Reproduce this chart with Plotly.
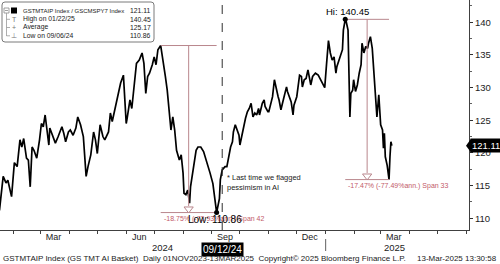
import plotly.graph_objects as go
import pandas as pd
import numpy as np

# ---------------- data ----------------
dates = [
    "2024-01-17", "2024-01-19", "2024-01-21", "2024-01-24", "2024-01-26", "2024-01-30",
    "2024-02-02", "2024-02-05", "2024-02-08", "2024-02-10", "2024-02-12", "2024-02-15",
    "2024-02-17", "2024-02-19", "2024-02-21", "2024-02-23", "2024-02-26", "2024-02-29",
    "2024-03-02", "2024-03-04", "2024-03-06", "2024-03-08", "2024-03-10", "2024-03-11",
    "2024-03-14", "2024-03-17", "2024-03-20", "2024-03-24", "2024-03-26", "2024-03-28",
    "2024-03-31", "2024-04-02", "2024-04-05", "2024-04-08", "2024-04-10", "2024-04-13",
    "2024-04-16", "2024-04-19", "2024-04-21", "2024-04-24", "2024-04-27", "2024-04-29",
    "2024-05-01", "2024-05-04", "2024-05-07", "2024-05-09", "2024-05-13", "2024-05-15",
    "2024-05-17", "2024-05-20", "2024-05-23", "2024-05-26", "2024-05-29", "2024-05-30",
    "2024-06-01", "2024-06-02", "2024-06-05", "2024-06-07", "2024-06-09", "2024-06-12",
    "2024-06-15", "2024-06-18", "2024-06-20", "2024-06-22", "2024-06-24", "2024-06-26",
    "2024-06-29", "2024-07-01", "2024-07-03", "2024-07-05", "2024-07-08", "2024-07-10",
    "2024-07-13", "2024-07-15", "2024-07-17", "2024-07-19", "2024-07-21", "2024-07-23",
    "2024-07-25", "2024-07-28", "2024-07-30", "2024-08-01", "2024-08-02", "2024-08-04",
    "2024-08-06", "2024-08-08", "2024-08-09", "2024-08-12", "2024-08-15", "2024-08-17",
    "2024-08-20", "2024-08-23", "2024-08-26", "2024-08-28", "2024-08-30", "2024-09-02",
    "2024-09-04", "2024-09-06", "2024-09-09", "2024-09-10", "2024-09-12", "2024-09-15",
    "2024-09-17", "2024-09-19", "2024-09-21", "2024-09-23", "2024-09-24", "2024-09-26",
    "2024-09-28", "2024-09-30", "2024-10-01", "2024-10-03", "2024-10-05", "2024-10-07",
    "2024-10-09", "2024-10-11", "2024-10-13", "2024-10-15", "2024-10-17", "2024-10-19",
    "2024-10-21", "2024-10-22", "2024-10-25", "2024-10-27", "2024-10-28", "2024-10-31",
    "2024-11-01", "2024-11-04", "2024-11-05", "2024-11-07", "2024-11-09", "2024-11-11",
    "2024-11-12", "2024-11-14", "2024-11-16", "2024-11-18", "2024-11-20", "2024-11-21",
    "2024-11-23", "2024-11-25", "2024-11-27", "2024-11-28", "2024-12-01", "2024-12-02",
    "2024-12-04", "2024-12-06", "2024-12-07", "2024-12-09", "2024-12-11", "2024-12-13",
    "2024-12-15", "2024-12-16", "2024-12-18", "2024-12-21", "2024-12-24", "2024-12-26",
    "2024-12-29", "2024-12-31", "2025-01-02", "2025-01-04", "2025-01-06", "2025-01-08",
    "2025-01-10", "2025-01-12", "2025-01-13", "2025-01-15", "2025-01-17", "2025-01-19",
    "2025-01-20", "2025-01-22", "2025-01-23", "2025-01-25", "2025-01-27", "2025-01-28",
    "2025-01-30", "2025-01-31", "2025-02-02", "2025-02-04", "2025-02-06", "2025-02-08",
    "2025-02-09", "2025-02-11", "2025-02-13", "2025-02-15", "2025-02-16", "2025-02-18",
    "2025-02-20", "2025-02-22", "2025-02-24", "2025-02-25", "2025-02-27", "2025-03-01",
    "2025-03-03", "2025-03-04", "2025-03-05", "2025-03-06", "2025-03-08", "2025-03-10",
    "2025-03-11", "2025-03-12", "2025-03-13",
]
values = [
    111.2, 114.3, 116.4, 115.4, 115.8, 113.3,
    118.5, 117.9, 122.0, 120.9, 122.2, 119.2,
    118.9, 114.8, 120.9, 120.4, 119.2, 122.0,
    124.5, 124.0, 125.8, 123.5, 121.2, 123.8,
    122.5, 121.5, 122.5, 124.0, 123.0, 121.7,
    123.2, 123.5, 122.7, 123.8, 125.5, 124.3,
    122.5, 116.4, 117.9, 119.7, 123.2, 122.0,
    119.9, 124.3, 122.5, 122.0, 123.2, 126.1,
    124.8, 126.7, 128.9, 130.7, 131.9, 129.9,
    124.5, 125.3, 128.1, 126.8, 129.4, 133.7,
    134.2, 135.3, 133.7, 129.1, 131.7, 132.2,
    133.5, 134.7, 133.5, 135.8, 136.44, 134.7,
    131.7, 129.6, 126.1, 123.5, 125.5, 123.5,
    120.4, 118.9, 119.7, 116.9, 113.8, 113.6,
    114.3, 112.3, 114.8, 117.9, 120.4, 120.9,
    120.9, 120.2, 118.9, 117.9, 116.9, 115.3,
    113.3, 110.86, 113.0, 115.9, 117.4, 117.9,
    117.9, 119.7, 120.9, 121.7, 123.2, 124.3,
    123.5, 122.7, 121.2, 122.7, 124.0, 125.3,
    126.3, 126.8, 127.6, 125.5, 126.1, 125.8,
    126.8, 125.8, 127.6, 128.1, 127.1, 126.3,
    126.3, 127.8, 128.6, 131.2, 129.6, 128.6,
    128.1, 126.6, 127.8, 129.1, 130.1, 129.4,
    128.6, 127.8, 125.8, 127.3, 128.6, 130.1,
    131.9, 131.7, 130.1, 131.2, 131.4, 132.7,
    130.9, 130.4, 131.7, 132.2, 131.9, 131.4,
    130.7, 130.0, 133.7, 137.2, 135.3, 134.2,
    134.7, 132.2, 133.2, 134.0, 135.0, 135.8,
    138.8, 140.45, 140.1, 138.8, 125.5, 129.1,
    129.6, 131.2, 129.4, 130.4, 132.2, 133.5,
    136.8, 135.3, 136.3, 136.0, 136.8, 137.8,
    136.0, 132.2, 128.6, 125.5, 128.9, 124.3,
    123.5, 120.7, 123.0, 119.4, 118.1, 115.91,
    119.4, 121.7, 121.11,
]

# tick labels
month_tick_dates = ["2024-03-15", "2024-06-15", "2024-09-15", "2024-12-15", "2025-03-15"]
month_tick_text = ["Mar", "Jun", "Sep", "Dec", "Mar"]
y_tick_vals = [110, 115, 120, 125, 130, 135, 140]

# drawdown annotations
dd_start = ["2024-07-08", "2025-01-22"]
dd_end = ["2024-09-06", "2025-03-10"]
dd_text = ["-18.75% (-72.93%ann.) Span 42", "-17.47% (-77.49%ann.) Span 33"]

flag_date = "2024-09-12"
flag_label = "09/12/24"
flag_note = "* Last time we flagged<br>pessimism in AI"

legend_rows = [
    ("GSTMTAIP Index / GSCMSPY7 Index", "121.11"),
    ("High on 01/22/25", "140.45"),
    ("Average", "125.17"),
    ("Low on 09/06/24", "110.86"),
]
footer_left = "GSTMTAIP Index (GS TMT AI Basket)  Daily 01NOV2023-13MAR2025  Copyright\u00a9 2025 Bloomberg Finance L.P."
footer_right = "13-Mar-2025 13:30:58"

# ---------------- layout helpers ----------------
W, H = 500, 264
ML, MR, MT, MB = 0, 31, 0, 34
PW, PH = W - ML - MR, H - MT - MB


def px(x):
    return (x - ML) / PW


def py(y):
    return (H - MB - y) / PH


s = pd.Series(values, index=pd.to_datetime(dates))
FONT = "Liberation Sans"
DDL = "#b9878d"
DDT = "#c25a68"
TXT = "#222222"

fig = go.Figure()

# main line
fig.add_trace(go.Scatter(x=s.index, y=s.values, mode="lines",
                         line=dict(color="black", width=1.7), hoverinfo="skip"))

shapes = []
annotations = []

# drawdowns
for a, b, t in zip(dd_start, dd_end, dd_text):
    ta, tb = pd.Timestamp(a), pd.Timestamp(b)
    hi, lo = s[ta], s[tb]
    mid = ta + (tb - ta) / 2
    fig.add_trace(go.Scatter(x=[ta, tb], y=[hi, hi], mode="lines",
                             line=dict(color=DDL, width=1), hoverinfo="skip"))
    fig.add_trace(go.Scatter(x=[ta, tb], y=[lo, lo], mode="lines",
                             line=dict(color=DDL, width=1), hoverinfo="skip"))
    fig.add_trace(go.Scatter(x=[mid, mid], y=[hi, lo + 1.0], mode="lines",
                             line=dict(color=DDL, width=1), hoverinfo="skip"))
    fig.add_trace(go.Scatter(x=[mid], y=[lo + 0.55], mode="markers",
                             marker=dict(symbol="triangle-down", size=8, color="white",
                                         line=dict(color=DDL, width=1)), hoverinfo="skip"))
    annotations.append(dict(x=ta, y=lo, xref="x", yref="y", text=t, showarrow=False,
                            xanchor="left", yanchor="top", xshift=1,
                            font=dict(family=FONT, size=7, color=DDT)))

# hi / low points
hi_d, lo_d = s.idxmax(), s.idxmin()
fig.add_trace(go.Scatter(x=[hi_d, lo_d], y=[s.max(), s.min()], mode="markers",
                         marker=dict(color="black", size=5), hoverinfo="skip"))
annotations.append(dict(x=hi_d, y=s.max(), xref="x", yref="y", text=f"Hi: {s.max():.2f}",
                        showarrow=False, xanchor="center", yanchor="bottom", xshift=2,
                        font=dict(family=FONT, size=9.5, color="black")))
annotations.append(dict(x=lo_d, y=s.min(), xref="x", yref="y", text=f"Low: {s.min():.2f}",
                        showarrow=False, xanchor="center", yanchor="top", yshift=1, xshift=-2,
                        font=dict(family=FONT, size=10, color="black")))

# flagged date dashed line and label
shapes.append(dict(type="line", xref="x", yref="paper", x0=flag_date, x1=flag_date,
                   y0=0, y1=1, line=dict(color="#303030", width=1, dash="dash")))
annotations.append(dict(x=flag_date, y=py(249), xref="x", yref="paper", text=flag_label,
                        showarrow=False, xanchor="center", yanchor="middle",
                        bgcolor="black", borderpad=1,
                        font=dict(family=FONT, size=10, color="white")))
shapes.append(dict(type="path", xref="x", yref="paper",
                   path=(f"M {pd.Timestamp(flag_date) - pd.Timedelta(days=3)} {py(242)} "
                         f"L {pd.Timestamp(flag_date)} {py(238.5)} "
                         f"L {pd.Timestamp(flag_date) + pd.Timedelta(days=3)} {py(242)} Z"),
                   fillcolor="black", line=dict(width=0)))
annotations.append(dict(x=px(225), y=py(182), xref="paper", yref="paper", text=flag_note,
                        showarrow=False, xanchor="left", yanchor="middle", align="left",
                        font=dict(family=FONT, size=7.5, color=TXT)))

# year labels and separator
annotations.append(dict(x=px(162), y=py(247.5), xref="paper", yref="paper", text="2024",
                        showarrow=False, xanchor="center", yanchor="middle",
                        font=dict(family=FONT, size=9.5, color=TXT)))
annotations.append(dict(x=px(394), y=py(247.5), xref="paper", yref="paper", text="2025",
                        showarrow=False, xanchor="center", yanchor="middle",
                        font=dict(family=FONT, size=9.5, color=TXT)))
shapes.append(dict(type="line", xref="x", yref="paper", x0="2025-01-01", x1="2025-01-01",
                   y0=py(239), y1=py(251), line=dict(color="#606060", width=1)))

# last value tag
last = s.iloc[-1]
shapes.append(dict(type="path", xref="paper", yref="y",
                   path=f"M {px(466)} {last} L {px(471)} {last + 1.05} L {px(471)} {last - 1.05} Z",
                   fillcolor="black", line=dict(width=0)))
annotations.append(dict(x=px(470), y=last, xref="paper", yref="y", text=f"{last:.2f}",
                        showarrow=False, xanchor="left", yanchor="middle", bgcolor="black",
                        borderpad=1, font=dict(family=FONT, size=9.5, color="white")))

# legend box
r = 3
x0, x1, y0, y1 = px(2), px(154), py(2), py(42)
rx, ry = r / PW, r / PH
shapes.append(dict(type="path", xref="paper", yref="paper",
                   path=(f"M {x0+rx} {y0} L {x1-rx} {y0} Q {x1} {y0} {x1} {y0-ry} "
                         f"L {x1} {y1+ry} Q {x1} {y1} {x1-rx} {y1} L {x0+rx} {y1} "
                         f"Q {x0} {y1} {x0} {y1+ry} L {x0} {y0-ry} Q {x0} {y0} {x0+rx} {y0} Z"),
                   fillcolor="white", line=dict(color="#7a7a7a", width=1), layer="above"))
row_y = [10.7, 19.3, 27.5, 35.8]
label_sizes = [6.0, 6.8, 6.8, 6.8]
for (lab, val), yy, fs in zip(legend_rows, row_y, label_sizes):
    annotations.append(dict(x=px(20.5), y=py(yy), xref="paper", yref="paper", text=lab,
                            showarrow=False, xanchor="left", yanchor="middle",
                            font=dict(family=FONT, size=fs, color="#1a1a1a")))
    annotations.append(dict(x=px(152.5), y=py(yy), xref="paper", yref="paper", text=val,
                            showarrow=False, xanchor="right", yanchor="middle",
                            font=dict(family=FONT, size=6.8, color="#1a1a1a")))
# tree glyphs
shapes.append(dict(type="rect", xref="paper", yref="paper", x0=px(4), x1=px(9),
                   y0=py(8), y1=py(13), line=dict(color="#888", width=0.8), layer="above"))
shapes.append(dict(type="line", xref="paper", yref="paper", x0=px(5), x1=px(8),
                   y0=py(10.5), y1=py(10.5), line=dict(color="#888", width=0.8), layer="above"))
shapes.append(dict(type="rect", xref="paper", yref="paper", x0=px(11), x1=px(17),
                   y0=py(7.5), y1=py(13.5), fillcolor="black", line=dict(width=0), layer="above"))
shapes.append(dict(type="line", xref="paper", yref="paper", x0=px(6.5), x1=px(6.5),
                   y0=py(13), y1=py(36), line=dict(color="#999", width=0.8), layer="above"))
for yy, g in zip(row_y[1:], ["T", "+", "\u22a5"]):
    shapes.append(dict(type="line", xref="paper", yref="paper", x0=px(6.5), x1=px(10),
                       y0=py(yy), y1=py(yy), line=dict(color="#999", width=0.8), layer="above"))
    annotations.append(dict(x=px(14), y=py(yy), xref="paper", yref="paper", text=g,
                            showarrow=False, xanchor="center", yanchor="middle",
                            font=dict(family=FONT, size=7, color="#777")))

# footer
annotations.append(dict(x=px(1), y=py(258), xref="paper", yref="paper", text=footer_left,
                        showarrow=False, xanchor="left", yanchor="middle",
                        font=dict(family=FONT, size=8.0, color=TXT)))
annotations.append(dict(x=px(499), y=py(258), xref="paper", yref="paper", text=footer_right,
                        showarrow=False, xanchor="right", yanchor="middle",
                        font=dict(family=FONT, size=8.0, color=TXT)))

fig.update_layout(
    width=W, height=H, margin=dict(l=ML, r=MR, t=MT, b=MB, pad=0),
    paper_bgcolor="white", plot_bgcolor="white", showlegend=False,
    shapes=shapes, annotations=annotations,
    xaxis=dict(type="date", range=["2024-01-17 14:00", "2025-06-03 19:00"],
               tickvals=month_tick_dates, ticktext=month_tick_text, ticks="",
               ticklabelstandoff=-2,
               tickfont=dict(family=FONT, size=9, color=TXT),
               showgrid=False, zeroline=False, showline=True, linecolor="#404040", linewidth=1,
               minor=dict(dtick="M1", tick0="2024-01-01", ticks="outside", ticklen=3,
                          tickcolor="#404040", showgrid=False)),
    yaxis=dict(side="right", range=[108.19, 143.41], tickvals=y_tick_vals,
               ticks="outside", ticklen=3, tickcolor="#303030",
               tickfont=dict(family=FONT, size=9.5, color=TXT),
               showgrid=False, zeroline=False, showline=True, linecolor="#404040", linewidth=1,
               minor=dict(dtick=2.5, tick0=0, ticks="outside", ticklen=2, tickcolor="#606060",
                          showgrid=False)),
)

fig.write_html("out.html")
